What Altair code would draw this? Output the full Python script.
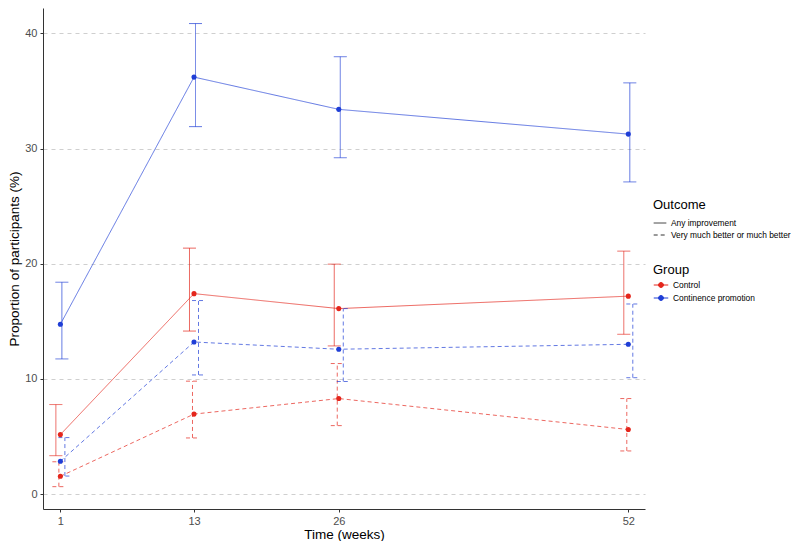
import altair as alt
import pandas as pd

weeks = [1, 13, 26, 52]
groups = ["Control", "Continence promotion"]
outcomes = ["Any improvement", "Very much better or much better"]

# Control
ctrl_any_est = [5.16, 17.4, 16.1, 17.18]
ctrl_any_lo = [3.33, 14.15, 12.86, 13.87]
ctrl_any_hi = [7.77, 21.35, 19.96, 21.09]
ctrl_vm_est = [1.54, 6.94, 8.29, 5.6]
ctrl_vm_lo = [0.64, 4.87, 5.94, 3.74]
ctrl_vm_hi = [2.8, 9.8, 11.33, 8.29]
# Continence promotion
cp_any_est = [14.74, 36.2, 33.4, 31.25]
cp_any_lo = [11.73, 31.9, 29.2, 27.1]
cp_any_hi = [18.39, 40.85, 37.97, 35.7]
cp_vm_est = [2.84, 13.2, 12.57, 13.0]
cp_vm_lo = [1.56, 10.34, 9.77, 10.1]
cp_vm_hi = [4.9, 16.8, 16.1, 16.5]

series = [
    ("Control", "Any improvement", ctrl_any_est, ctrl_any_lo, ctrl_any_hi, -1.5),
    ("Control", "Very much better or much better", ctrl_vm_est, ctrl_vm_lo, ctrl_vm_hi, -0.5),
    ("Continence promotion", "Any improvement", cp_any_est, cp_any_lo, cp_any_hi, 0.5),
    ("Continence promotion", "Very much better or much better", cp_vm_est, cp_vm_lo, cp_vm_hi, 1.5),
]
DODGE = 0.27  # weeks per dodge slot (error bars only)

rows = []
for g, o, est, lo, hi, slot in series:
    for w, e, l, h in zip(weeks, est, lo, hi):
        rows.append({"week": w, "group": g, "outcome": o, "est": e, "lo": l, "hi": h,
                     "xd": w + slot * DODGE})
df = pd.DataFrame(rows)

RED = "#E4261C"
BLUE = "#1F3ED6"
FONT = "Liberation Sans"

xscale = alt.Scale(domain=[-0.56, 53.5], nice=False, zero=False)
yscale = alt.Scale(domain=[-1.3, 42.2], nice=False, zero=False)
gscale = alt.Scale(domain=groups, range=[RED, BLUE])

grp_legend = alt.Legend(
    title="Group", orient="none", legendX=610, legendY=256,
    titleFontSize=13, titleFontWeight="normal", titleColor="black", titleFont=FONT,
    titlePadding=0, rowPadding=0,
    labelFontSize=8.4, labelFont=FONT, labelColor="black", labelOffset=4,
    symbolType="M-1,0H1M-0.34,0A0.34,0.34,0,1,0,0.34,0A0.34,0.34,0,1,0,-0.34,0Z",
    symbolSize=210, symbolStrokeWidth=1, symbolOpacity=1,
)
stroke = alt.Stroke("group:N", scale=gscale, legend=grp_legend)
fill = alt.Fill("group:N", scale=gscale, legend=grp_legend)

dash = alt.StrokeDash(
    "outcome:N",
    scale=alt.Scale(domain=outcomes, range=[[1, 0], [4, 3]]),
    legend=alt.Legend(
        title="Outcome", orient="none", legendX=610, legendY=191,
        titleFontSize=13, titleFontWeight="normal", titleColor="black", titleFont=FONT,
        titlePadding=4, rowPadding=0,
        labelFontSize=8.4, labelFont=FONT, labelColor="black", labelOffset=4,
        symbolType="stroke", symbolSize=160, symbolStrokeColor="#333333",
        symbolStrokeWidth=1, symbolOpacity=1,
    ),
)

x_axis = alt.Axis(values=weeks, title="Time (weeks)", grid=False)
y_axis = alt.Axis(values=[0, 10, 20, 30, 40], title="Proportion of participants (%)",
                  grid=True)

base = alt.Chart(df)

lines = base.mark_line(strokeWidth=1, opacity=0.7).encode(
    x=alt.X("week:Q", scale=xscale, axis=x_axis),
    y=alt.Y("est:Q", scale=yscale, axis=y_axis),
    stroke=stroke, strokeDash=dash,
)
bars = base.mark_rule(strokeWidth=1, opacity=0.7).encode(
    x=alt.X("xd:Q", scale=xscale), y=alt.Y("lo:Q", scale=yscale), y2="hi:Q",
    stroke=stroke, strokeDash=dash,
)
cap_lo = base.mark_rule(strokeWidth=1, opacity=0.7, xOffset=-6.5, x2Offset=6.5).encode(
    x=alt.X("xd:Q", scale=xscale), x2="xd:Q", y=alt.Y("lo:Q", scale=yscale),
    stroke=stroke, strokeDash=dash,
)
cap_hi = base.mark_rule(strokeWidth=1, opacity=0.7, xOffset=-6.5, x2Offset=6.5).encode(
    x=alt.X("xd:Q", scale=xscale), x2="xd:Q", y=alt.Y("hi:Q", scale=yscale),
    stroke=stroke, strokeDash=dash,
)
points = base.mark_circle(size=26, opacity=1).encode(
    x=alt.X("week:Q", scale=xscale), y=alt.Y("est:Q", scale=yscale),
    fill=fill,
)

chart = alt.layer(lines, bars, cap_lo, cap_hi, points).properties(
    width=602, height=501,
    autosize=alt.AutoSizeParams(type="none"),
    padding={"left": 35, "top": 0, "right": 146, "bottom": 32},
).configure_view(stroke=None).configure_axis(
    labelFont=FONT, titleFont=FONT, labelFontSize=11, labelColor="#4d4d4d",
    titleFontSize=13.5, titleFontWeight="normal", titleColor="black",
    domainColor="#333333", domainWidth=1, tickColor="#333333", tickSize=3,
    gridColor="#cfcfcf", gridDash=[4, 4], gridWidth=1,
    labelPadding=3,
).configure_axisY(titlePadding=3).configure_axisX(titlePadding=1)

chart.save("out.html", embed_options={"renderer": "svg", "actions": False})
